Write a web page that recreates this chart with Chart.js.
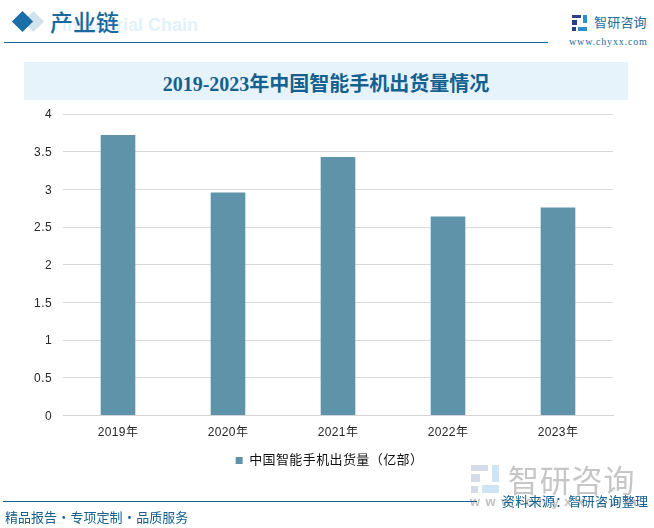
<!DOCTYPE html>
<html>
<head>
<meta charset="utf-8">
<script src="https://cdn.jsdelivr.net/npm/chart.js@4/dist/chart.umd.min.js"></script>
<style>
html, body { margin: 0; padding: 0; background: #fff; }
#pagina { position: relative; width: 654px; height: 528px; overflow: hidden; font-family: "Liberation Sans", "Noto Sans CJK SC", sans-serif; }
#pagina div, #pagina svg { position: absolute; white-space: nowrap; }
#grafico { position: absolute; left: 0; top: 0; }
.losango { width: 15px; height: 15px; transform: rotate(45deg); }
</style>
</head>
<body>
<div id="pagina">
	<div class="losango" style="left:25.5px;top:13.5px;background:#d3e3ee"></div>
	<div class="losango" style="left:15px;top:13.5px;background:#1a6fa8"></div>
	<div style="left:62px;top:15px;font:bold 18px Arial,'Liberation Sans';color:#e3f1fa">Industrial Chain</div>
	<div style="left:50px;top:6px;font:500 23px/30px 'Noto Sans CJK SC';color:#17699f">产业链</div>
	<div style="left:4px;top:42px;width:544px;height:1px;background:#0f6a9a"></div>

	<svg style="left:571px;top:14px" width="17" height="17">
		<rect x="1" y="1" width="9" height="3" fill="#2b3f86"></rect>
		<rect x="1" y="6" width="5" height="5" fill="#2b3f86"></rect>
		<rect x="1" y="13" width="4" height="4" fill="#2b3f86"></rect>
		<rect x="12" y="1" width="4" height="8" fill="#2b8fd0"></rect>
		<rect x="7" y="13" width="9" height="4" fill="#2b8fd0"></rect>
	</svg>
	<div style="left:594px;top:13px;font:13px/18px 'Noto Sans CJK SC';letter-spacing:.2px;color:#1d6a98">智研咨询</div>
	<div style="left:569px;top:36px;font:10px/12px 'Liberation Serif';letter-spacing:.85px;color:#1d6a98">www.chyxx.com</div>

	<div style="left:24px;top:62px;width:604px;height:38px;background:#e6f3fb"></div>
	<div style="left:24px;top:63px;width:604px;text-align:center;font:bold 20px/43px 'Liberation Serif','Noto Sans CJK SC';color:#14608f">2019-2023年中国智能手机出货量情况</div>

	<canvas id="grafico" width="654" height="528"></canvas>

	<svg style="left:469px;top:463px" width="32" height="32">
		<rect x="2" y="2" width="17" height="6" fill="#d5dbe8"></rect>
		<rect x="2" y="11" width="9" height="8" fill="#d5dbe8"></rect>
		<rect x="2" y="23" width="7" height="7" fill="#d5dbe8"></rect>
		<rect x="23" y="2" width="7" height="17" fill="#cfe4f4"></rect>
		<rect x="13" y="22" width="17" height="8" fill="#cfe4f4"></rect>
	</svg>
	<div style="left:508px;top:461px;font:31px/36px 'Noto Sans CJK SC';letter-spacing:.8px;color:#c6c6c6">智研咨询</div>
	<div style="left:470px;top:494px;font:bold 13px/16px 'Liberation Sans';letter-spacing:5.5px;color:#c2c2c2">www.chyxx.com</div>
	<div style="left:502px;top:492px;font:13px/18px 'Noto Sans CJK SC';letter-spacing:.3px;color:#14608f">资料来源：智研咨询整理</div>
	<div style="left:3px;top:501px;width:474px;height:1px;background:#14608f"></div>
	<div style="left:5px;top:508px;font:13px/18px 'Noto Sans CJK SC';word-spacing:-2.6px;color:#14608f">精品报告 · 专项定制 · 品质服务</div>
</div>

<script>
var anos = ['2019年', '2020年', '2021年', '2022年', '2023年'];
var valores = [3.72, 2.96, 3.43, 2.64, 2.76];
var marcasEixo = ['0', '0.5', '1', '1.5', '2', '2.5', '3', '3.5', '4'];
var nomeSerie = '中国智能手机出货量（亿部）';

var fonte = '"Liberation Sans", "Noto Sans CJK SC", sans-serif';

// a legenda do original fica centrada na pagina, nao na area do grafico
var ajustarLegenda = {
	id: 'ajustarLegenda',
	beforeUpdate: function(chart) {
		chart.ctx.fontKerning = 'none';
		chart.ctx.letterSpacing = '0.4px';
	},
	afterLayout: function(chart) {
		chart.legend.left += 23;
		chart.legend.right += 23;
	}
};

var graficoRemessas = new Chart(document.getElementById('grafico').getContext('2d'), {
	type: 'bar',
	plugins: [ajustarLegenda],
	data: {
		labels: anos,
		datasets: [{
			label: nomeSerie,
			backgroundColor: '#5f93aa',
			data: valores,
			categoryPercentage: 1,
			barPercentage: 0.315
		}]
	},
	options: {
		responsive: false,
		animation: false,
		layout: { padding: { top: 114, right: 41, bottom: 51, left: 0 } },
		plugins: {
			tooltip: { enabled: false },
			legend: {
				position: 'bottom',
				labels: {
					usePointStyle: true,
					pointStyle: 'rect',
					boxWidth: 7,
					boxHeight: 7,
					color: '#111',
					font: { family: fonte, size: 13 }
				}
			}
		},
		scales: {
			x: {
				grid: { display: false, drawTicks: false },
				border: { color: '#d4d4d4', width: 1 },
				ticks: { color: '#262626', padding: 10, font: { family: fonte, size: 12 } },
				afterFit: function(eixo) { eixo.height = 28.5; }
			},
			y: {
				min: 0,
				max: 4,
				grid: { color: '#d9d9d9', drawTicks: false },
				border: { display: false },
				ticks: {
					stepSize: 0.5,
					padding: 11,
					labelOffset: 1,
					color: '#262626',
					font: { family: fonte, size: 12 },
					callback: function(valor, i) { return marcasEixo[i]; }
				},
				afterFit: function(eixo) { eixo.width = 63; }
			}
		}
	}
});
</script>
</body>
</html>
